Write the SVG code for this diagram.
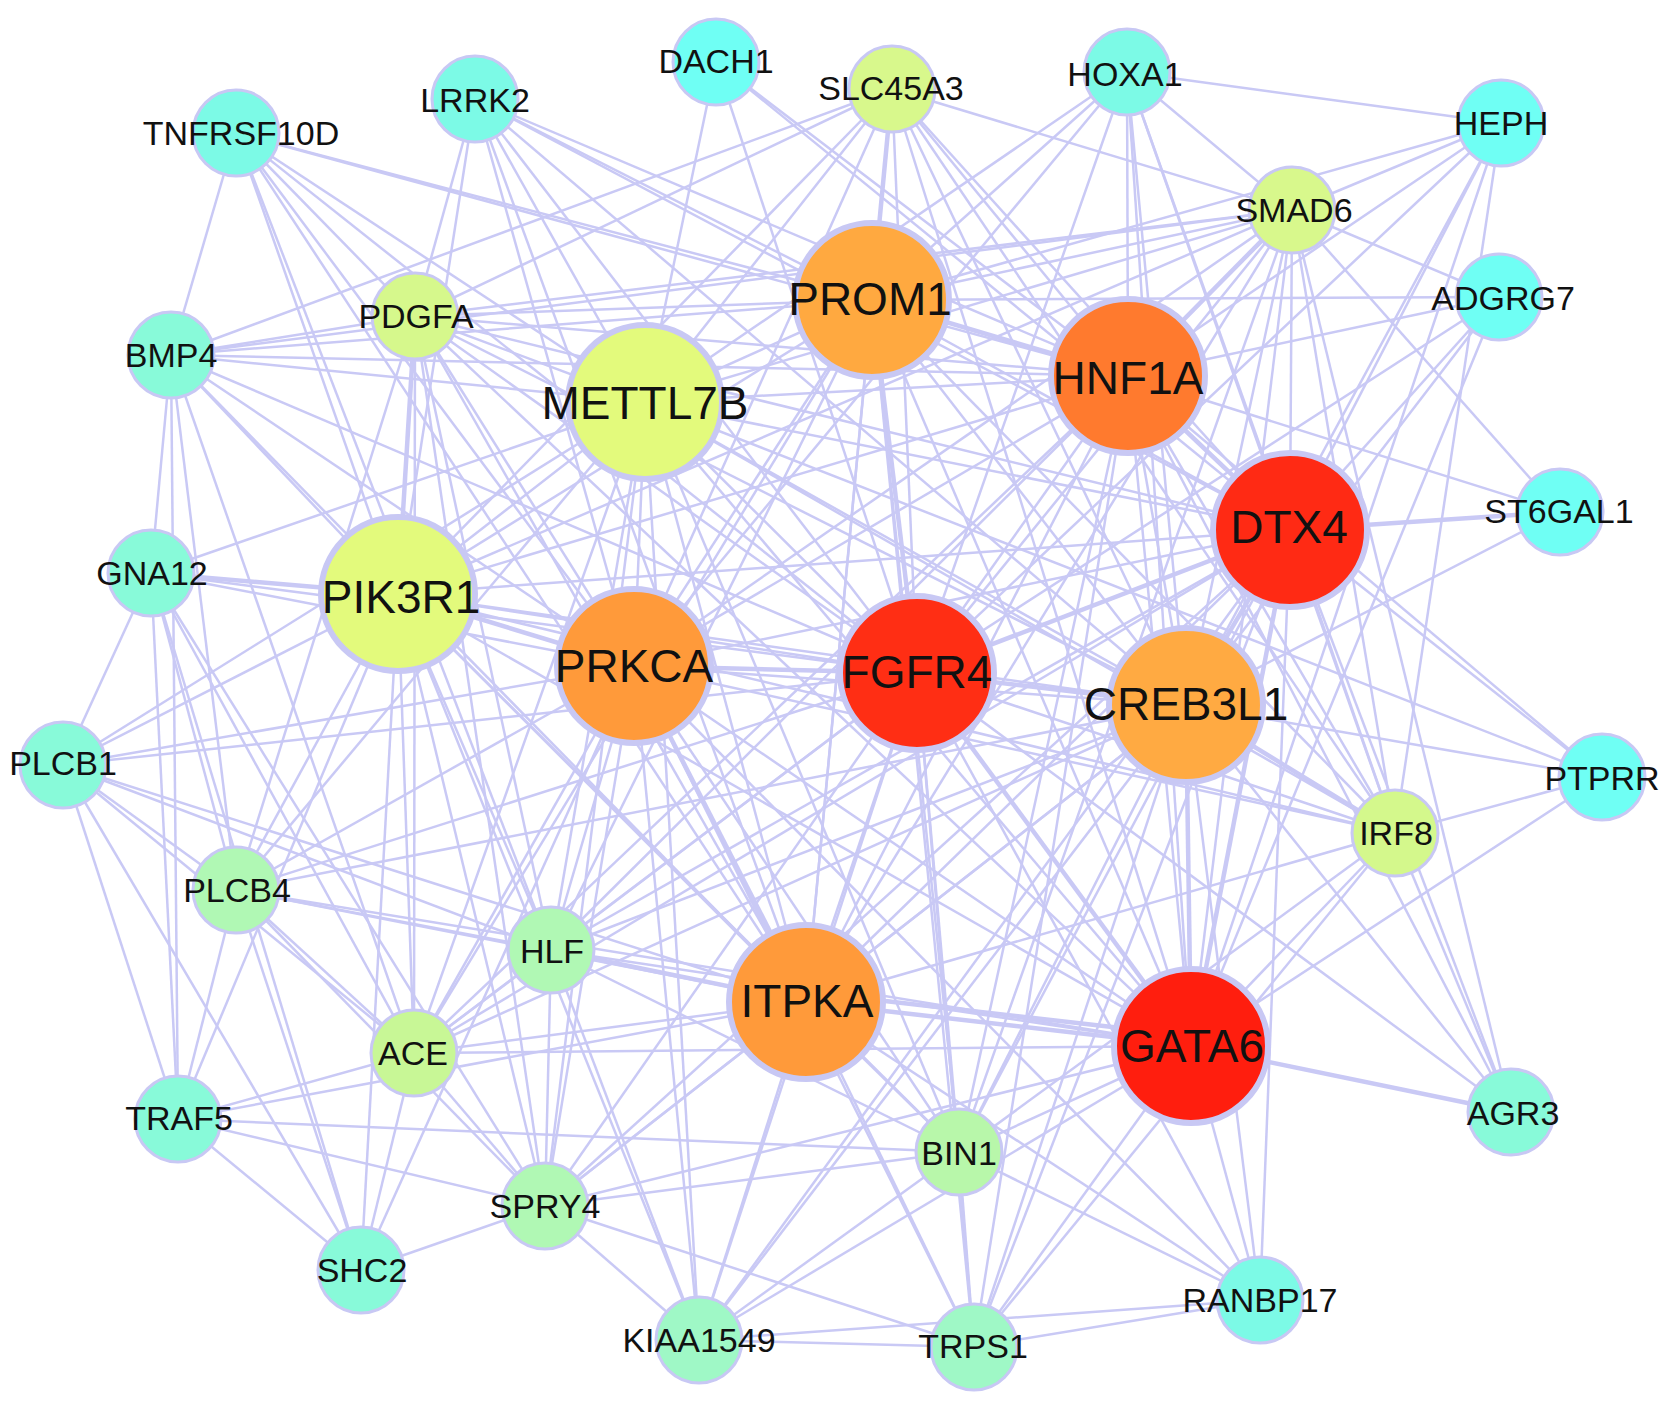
<svg xmlns="http://www.w3.org/2000/svg" width="1677" height="1411" viewBox="0 0 1677 1411">
<style>
.e line{stroke:#C9C9F5;stroke-width:2.5;fill:none}
.e line.t{stroke-width:4.5}
.s{stroke:#C8C8F4;stroke-width:3}
.b{stroke:#C8C8F4;stroke-width:6}
text{font-family:"Liberation Sans",Arial,sans-serif;fill:#111;text-anchor:middle}
.ls{font-size:34px}
.lb{font-size:46px}
</style>
<rect width="1677" height="1411" fill="#fff"/>
<g id="edges" class="e">
<line class="t" x1="872" y1="300" x2="1128" y2="376"/>
<line x1="872" y1="300" x2="645" y2="402"/>
<line x1="872" y1="300" x2="1290" y2="530"/>
<line x1="872" y1="300" x2="398" y2="594"/>
<line x1="872" y1="300" x2="634" y2="666"/>
<line class="t" x1="872" y1="300" x2="917" y2="673"/>
<line x1="872" y1="300" x2="1186" y2="705"/>
<line x1="872" y1="300" x2="806" y2="1002"/>
<line x1="872" y1="300" x2="1191" y2="1046"/>
<line x1="1128" y1="376" x2="645" y2="402"/>
<line class="t" x1="1128" y1="376" x2="1290" y2="530"/>
<line x1="1128" y1="376" x2="398" y2="594"/>
<line x1="1128" y1="376" x2="634" y2="666"/>
<line x1="1128" y1="376" x2="917" y2="673"/>
<line x1="1128" y1="376" x2="1186" y2="705"/>
<line x1="1128" y1="376" x2="806" y2="1002"/>
<line x1="1128" y1="376" x2="1191" y2="1046"/>
<line x1="645" y1="402" x2="1290" y2="530"/>
<line x1="645" y1="402" x2="398" y2="594"/>
<line x1="645" y1="402" x2="634" y2="666"/>
<line x1="645" y1="402" x2="917" y2="673"/>
<line x1="645" y1="402" x2="1186" y2="705"/>
<line x1="645" y1="402" x2="806" y2="1002"/>
<line x1="645" y1="402" x2="1191" y2="1046"/>
<line x1="1290" y1="530" x2="398" y2="594"/>
<line x1="1290" y1="530" x2="634" y2="666"/>
<line class="t" x1="1290" y1="530" x2="917" y2="673"/>
<line class="t" x1="1290" y1="530" x2="1186" y2="705"/>
<line x1="1290" y1="530" x2="806" y2="1002"/>
<line class="t" x1="1290" y1="530" x2="1191" y2="1046"/>
<line class="t" x1="398" y1="594" x2="634" y2="666"/>
<line x1="398" y1="594" x2="917" y2="673"/>
<line x1="398" y1="594" x2="1186" y2="705"/>
<line x1="398" y1="594" x2="806" y2="1002"/>
<line x1="398" y1="594" x2="1191" y2="1046"/>
<line class="t" x1="634" y1="666" x2="917" y2="673"/>
<line x1="634" y1="666" x2="1186" y2="705"/>
<line class="t" x1="634" y1="666" x2="806" y2="1002"/>
<line x1="634" y1="666" x2="1191" y2="1046"/>
<line class="t" x1="917" y1="673" x2="1186" y2="705"/>
<line x1="917" y1="673" x2="806" y2="1002"/>
<line class="t" x1="917" y1="673" x2="1191" y2="1046"/>
<line x1="1186" y1="705" x2="806" y2="1002"/>
<line class="t" x1="1186" y1="705" x2="1191" y2="1046"/>
<line class="t" x1="806" y1="1002" x2="1191" y2="1046"/>
<line class="t" x1="806" y1="992" x2="1191" y2="1036"/>
<line x1="716" y1="62" x2="1128" y2="376"/>
<line x1="716" y1="62" x2="917" y2="673"/>
<line x1="716" y1="62" x2="645" y2="402"/>
<line x1="716" y1="62" x2="1290" y2="530"/>
<line class="t" x1="892" y1="89" x2="872" y2="300"/>
<line x1="892" y1="89" x2="1128" y2="376"/>
<line x1="892" y1="89" x2="1290" y2="530"/>
<line x1="892" y1="89" x2="917" y2="673"/>
<line x1="892" y1="89" x2="1186" y2="705"/>
<line x1="892" y1="89" x2="1191" y2="1046"/>
<line x1="892" y1="89" x2="645" y2="402"/>
<line x1="892" y1="89" x2="634" y2="666"/>
<line x1="892" y1="89" x2="398" y2="594"/>
<line x1="892" y1="89" x2="415" y2="316"/>
<line x1="892" y1="89" x2="171" y2="355"/>
<line x1="892" y1="89" x2="1292" y2="210"/>
<line x1="892" y1="89" x2="806" y2="1002"/>
<line x1="892" y1="89" x2="1395" y2="833"/>
<line x1="1127" y1="72" x2="1292" y2="210"/>
<line x1="1127" y1="72" x2="1501" y2="123"/>
<line x1="1127" y1="72" x2="1128" y2="376"/>
<line x1="1127" y1="72" x2="1290" y2="530"/>
<line x1="1127" y1="72" x2="872" y2="300"/>
<line x1="1127" y1="72" x2="645" y2="402"/>
<line x1="1127" y1="72" x2="917" y2="673"/>
<line x1="1127" y1="72" x2="1186" y2="705"/>
<line x1="1127" y1="72" x2="634" y2="666"/>
<line x1="1127" y1="72" x2="1191" y2="1046"/>
<line x1="1127" y1="72" x2="1395" y2="833"/>
<line x1="1501" y1="123" x2="1292" y2="210"/>
<line x1="1501" y1="123" x2="1128" y2="376"/>
<line x1="1501" y1="123" x2="872" y2="300"/>
<line x1="1501" y1="123" x2="1290" y2="530"/>
<line x1="1501" y1="123" x2="1186" y2="705"/>
<line x1="1501" y1="123" x2="917" y2="673"/>
<line x1="1501" y1="123" x2="1191" y2="1046"/>
<line x1="1501" y1="123" x2="1395" y2="833"/>
<line x1="475" y1="99" x2="415" y2="316"/>
<line x1="475" y1="99" x2="645" y2="402"/>
<line x1="475" y1="99" x2="872" y2="300"/>
<line x1="475" y1="99" x2="634" y2="666"/>
<line x1="475" y1="99" x2="398" y2="594"/>
<line x1="475" y1="99" x2="917" y2="673"/>
<line x1="475" y1="99" x2="1128" y2="376"/>
<line x1="475" y1="99" x2="1290" y2="530"/>
<line x1="475" y1="99" x2="1186" y2="705"/>
<line x1="475" y1="99" x2="806" y2="1002"/>
<line x1="236" y1="133" x2="171" y2="355"/>
<line x1="236" y1="133" x2="398" y2="594"/>
<line x1="236" y1="133" x2="415" y2="316"/>
<line x1="236" y1="133" x2="645" y2="402"/>
<line x1="236" y1="133" x2="634" y2="666"/>
<line x1="236" y1="133" x2="872" y2="300"/>
<line x1="236" y1="133" x2="917" y2="673"/>
<line x1="236" y1="133" x2="1128" y2="376"/>
<line x1="236" y1="133" x2="551" y2="950"/>
<line x1="236" y1="133" x2="806" y2="1002"/>
<line x1="1292" y1="210" x2="1499" y2="297"/>
<line x1="1292" y1="210" x2="1560" y2="512"/>
<line x1="1292" y1="210" x2="872" y2="300"/>
<line class="t" x1="1292" y1="210" x2="1128" y2="376"/>
<line x1="1292" y1="210" x2="645" y2="402"/>
<line x1="1292" y1="210" x2="1290" y2="530"/>
<line x1="1292" y1="210" x2="917" y2="673"/>
<line x1="1292" y1="210" x2="1186" y2="705"/>
<line x1="1292" y1="210" x2="1191" y2="1046"/>
<line x1="1292" y1="210" x2="1395" y2="833"/>
<line x1="1292" y1="210" x2="634" y2="666"/>
<line x1="1292" y1="210" x2="398" y2="594"/>
<line x1="1292" y1="210" x2="806" y2="1002"/>
<line x1="1292" y1="210" x2="1511" y2="1112"/>
<line x1="1292" y1="210" x2="415" y2="316"/>
<line x1="1292" y1="210" x2="171" y2="355"/>
<line x1="1292" y1="210" x2="959" y2="1152"/>
<line x1="1499" y1="297" x2="1128" y2="376"/>
<line x1="1499" y1="297" x2="872" y2="300"/>
<line x1="1499" y1="297" x2="1290" y2="530"/>
<line x1="1499" y1="297" x2="1186" y2="705"/>
<line x1="1499" y1="297" x2="1191" y2="1046"/>
<line x1="1499" y1="297" x2="917" y2="673"/>
<line x1="415" y1="316" x2="171" y2="355"/>
<line x1="415" y1="316" x2="872" y2="300"/>
<line x1="415" y1="316" x2="645" y2="402"/>
<line x1="415" y1="316" x2="1128" y2="376"/>
<line x1="415" y1="316" x2="1290" y2="530"/>
<line class="t" x1="415" y1="316" x2="398" y2="594"/>
<line x1="415" y1="316" x2="634" y2="666"/>
<line x1="415" y1="316" x2="917" y2="673"/>
<line x1="415" y1="316" x2="1186" y2="705"/>
<line x1="415" y1="316" x2="806" y2="1002"/>
<line x1="415" y1="316" x2="1191" y2="1046"/>
<line x1="415" y1="316" x2="236" y2="890"/>
<line x1="415" y1="316" x2="414" y2="1053"/>
<line x1="415" y1="316" x2="551" y2="950"/>
<line x1="415" y1="316" x2="545" y2="1206"/>
<line x1="171" y1="355" x2="151" y2="573"/>
<line x1="171" y1="355" x2="398" y2="594"/>
<line x1="171" y1="355" x2="645" y2="402"/>
<line x1="171" y1="355" x2="872" y2="300"/>
<line x1="171" y1="355" x2="634" y2="666"/>
<line x1="171" y1="355" x2="917" y2="673"/>
<line x1="171" y1="355" x2="1128" y2="376"/>
<line x1="171" y1="355" x2="236" y2="890"/>
<line x1="171" y1="355" x2="178" y2="1119"/>
<line x1="171" y1="355" x2="414" y2="1053"/>
<line x1="171" y1="355" x2="806" y2="1002"/>
<line class="t" x1="1560" y1="512" x2="1290" y2="530"/>
<line x1="1560" y1="512" x2="1186" y2="705"/>
<line x1="1560" y1="512" x2="1128" y2="376"/>
<line class="t" x1="151" y1="573" x2="398" y2="594"/>
<line x1="151" y1="573" x2="63" y2="765"/>
<line x1="151" y1="573" x2="236" y2="890"/>
<line x1="151" y1="573" x2="178" y2="1119"/>
<line x1="151" y1="573" x2="361" y2="1270"/>
<line x1="151" y1="573" x2="414" y2="1053"/>
<line x1="151" y1="573" x2="634" y2="666"/>
<line x1="151" y1="573" x2="917" y2="673"/>
<line x1="151" y1="573" x2="645" y2="402"/>
<line x1="151" y1="573" x2="545" y2="1206"/>
<line x1="63" y1="765" x2="236" y2="890"/>
<line x1="63" y1="765" x2="398" y2="594"/>
<line x1="63" y1="765" x2="634" y2="666"/>
<line x1="63" y1="765" x2="178" y2="1119"/>
<line x1="63" y1="765" x2="361" y2="1270"/>
<line x1="63" y1="765" x2="917" y2="673"/>
<line x1="63" y1="765" x2="806" y2="1002"/>
<line x1="63" y1="765" x2="551" y2="950"/>
<line x1="63" y1="765" x2="645" y2="402"/>
<line x1="63" y1="765" x2="414" y2="1053"/>
<line x1="1602" y1="777" x2="1395" y2="833"/>
<line x1="1602" y1="777" x2="1290" y2="530"/>
<line x1="1602" y1="777" x2="1186" y2="705"/>
<line x1="1602" y1="777" x2="1191" y2="1046"/>
<line x1="1602" y1="777" x2="645" y2="402"/>
<line x1="1602" y1="777" x2="1128" y2="376"/>
<line x1="1395" y1="833" x2="1290" y2="530"/>
<line class="t" x1="1395" y1="833" x2="1186" y2="705"/>
<line x1="1395" y1="833" x2="917" y2="673"/>
<line x1="1395" y1="833" x2="1191" y2="1046"/>
<line x1="1395" y1="833" x2="1128" y2="376"/>
<line x1="1395" y1="833" x2="872" y2="300"/>
<line x1="1395" y1="833" x2="634" y2="666"/>
<line x1="1395" y1="833" x2="806" y2="1002"/>
<line x1="1395" y1="833" x2="1511" y2="1112"/>
<line x1="1395" y1="833" x2="959" y2="1152"/>
<line x1="1395" y1="833" x2="974" y2="1347"/>
<line x1="1395" y1="833" x2="645" y2="402"/>
<line x1="1395" y1="833" x2="398" y2="594"/>
<line x1="236" y1="890" x2="398" y2="594"/>
<line x1="236" y1="890" x2="634" y2="666"/>
<line x1="236" y1="890" x2="917" y2="673"/>
<line x1="236" y1="890" x2="645" y2="402"/>
<line x1="236" y1="890" x2="551" y2="950"/>
<line x1="236" y1="890" x2="806" y2="1002"/>
<line x1="236" y1="890" x2="178" y2="1119"/>
<line x1="236" y1="890" x2="361" y2="1270"/>
<line x1="236" y1="890" x2="414" y2="1053"/>
<line x1="236" y1="890" x2="545" y2="1206"/>
<line x1="236" y1="890" x2="1186" y2="705"/>
<line x1="236" y1="890" x2="1191" y2="1046"/>
<line x1="551" y1="950" x2="398" y2="594"/>
<line x1="551" y1="950" x2="634" y2="666"/>
<line x1="551" y1="950" x2="917" y2="673"/>
<line x1="551" y1="950" x2="645" y2="402"/>
<line class="t" x1="551" y1="950" x2="806" y2="1002"/>
<line x1="551" y1="950" x2="1191" y2="1046"/>
<line x1="551" y1="950" x2="1186" y2="705"/>
<line x1="551" y1="950" x2="414" y2="1053"/>
<line x1="551" y1="950" x2="545" y2="1206"/>
<line x1="551" y1="950" x2="699" y2="1340"/>
<line x1="551" y1="950" x2="959" y2="1152"/>
<line x1="551" y1="950" x2="1290" y2="530"/>
<line x1="551" y1="950" x2="1128" y2="376"/>
<line x1="551" y1="950" x2="872" y2="300"/>
<line x1="414" y1="1053" x2="398" y2="594"/>
<line x1="414" y1="1053" x2="634" y2="666"/>
<line x1="414" y1="1053" x2="917" y2="673"/>
<line x1="414" y1="1053" x2="806" y2="1002"/>
<line x1="414" y1="1053" x2="1191" y2="1046"/>
<line x1="414" y1="1053" x2="545" y2="1206"/>
<line x1="414" y1="1053" x2="361" y2="1270"/>
<line x1="414" y1="1053" x2="178" y2="1119"/>
<line x1="414" y1="1053" x2="1128" y2="376"/>
<line x1="414" y1="1053" x2="1290" y2="530"/>
<line x1="414" y1="1053" x2="1186" y2="705"/>
<line x1="414" y1="1053" x2="645" y2="402"/>
<line x1="414" y1="1053" x2="872" y2="300"/>
<line x1="178" y1="1119" x2="361" y2="1270"/>
<line x1="178" y1="1119" x2="545" y2="1206"/>
<line x1="178" y1="1119" x2="806" y2="1002"/>
<line x1="178" y1="1119" x2="959" y2="1152"/>
<line x1="178" y1="1119" x2="398" y2="594"/>
<line class="t" x1="1511" y1="1112" x2="1191" y2="1046"/>
<line x1="1511" y1="1112" x2="1186" y2="705"/>
<line x1="1511" y1="1112" x2="1128" y2="376"/>
<line x1="1511" y1="1112" x2="1290" y2="530"/>
<line x1="1511" y1="1112" x2="917" y2="673"/>
<line x1="959" y1="1152" x2="806" y2="1002"/>
<line x1="959" y1="1152" x2="917" y2="673"/>
<line x1="959" y1="1152" x2="1191" y2="1046"/>
<line x1="959" y1="1152" x2="1186" y2="705"/>
<line x1="959" y1="1152" x2="1290" y2="530"/>
<line x1="959" y1="1152" x2="1128" y2="376"/>
<line x1="959" y1="1152" x2="872" y2="300"/>
<line x1="959" y1="1152" x2="634" y2="666"/>
<line x1="959" y1="1152" x2="398" y2="594"/>
<line x1="959" y1="1152" x2="645" y2="402"/>
<line x1="959" y1="1152" x2="974" y2="1347"/>
<line x1="959" y1="1152" x2="699" y2="1340"/>
<line x1="959" y1="1152" x2="545" y2="1206"/>
<line x1="959" y1="1152" x2="1260" y2="1300"/>
<line x1="545" y1="1206" x2="361" y2="1270"/>
<line x1="545" y1="1206" x2="398" y2="594"/>
<line x1="545" y1="1206" x2="634" y2="666"/>
<line x1="545" y1="1206" x2="917" y2="673"/>
<line x1="545" y1="1206" x2="806" y2="1002"/>
<line x1="545" y1="1206" x2="1191" y2="1046"/>
<line x1="545" y1="1206" x2="699" y2="1340"/>
<line x1="545" y1="1206" x2="645" y2="402"/>
<line x1="545" y1="1206" x2="1186" y2="705"/>
<line x1="545" y1="1206" x2="1290" y2="530"/>
<line x1="361" y1="1270" x2="398" y2="594"/>
<line x1="361" y1="1270" x2="634" y2="666"/>
<line x1="1260" y1="1300" x2="1191" y2="1046"/>
<line x1="1260" y1="1300" x2="1290" y2="530"/>
<line x1="1260" y1="1300" x2="974" y2="1347"/>
<line x1="1260" y1="1300" x2="699" y2="1340"/>
<line x1="1260" y1="1300" x2="806" y2="1002"/>
<line x1="1260" y1="1300" x2="634" y2="666"/>
<line x1="1260" y1="1300" x2="917" y2="673"/>
<line x1="1260" y1="1300" x2="1186" y2="705"/>
<line x1="699" y1="1340" x2="974" y2="1347"/>
<line x1="699" y1="1340" x2="806" y2="1002"/>
<line x1="699" y1="1340" x2="634" y2="666"/>
<line x1="699" y1="1340" x2="398" y2="594"/>
<line x1="699" y1="1340" x2="645" y2="402"/>
<line x1="699" y1="1340" x2="917" y2="673"/>
<line x1="699" y1="1340" x2="1191" y2="1046"/>
<line x1="699" y1="1340" x2="1290" y2="530"/>
<line x1="699" y1="1340" x2="1186" y2="705"/>
<line x1="974" y1="1347" x2="806" y2="1002"/>
<line x1="974" y1="1347" x2="1191" y2="1046"/>
<line x1="974" y1="1347" x2="917" y2="673"/>
<line x1="974" y1="1347" x2="634" y2="666"/>
<line x1="974" y1="1347" x2="1186" y2="705"/>
<line x1="974" y1="1347" x2="1290" y2="530"/>
<line x1="974" y1="1347" x2="1128" y2="376"/>
<line x1="974" y1="1347" x2="872" y2="300"/>
<line x1="974" y1="1347" x2="545" y2="1206"/>
</g>
<g id="DACH1"><circle class="s" cx="716" cy="62" r="43" fill="#6FFFF4"/><text class="ls" x="716" y="73">DACH1</text></g>
<g id="SLC45A3"><circle class="s" cx="892" cy="89" r="43" fill="#D8F88C"/><text class="ls" x="891" y="100">SLC45A3</text></g>
<g id="HOXA1"><circle class="s" cx="1127" cy="72" r="43" fill="#7CFAE6"/><text class="ls" x="1125" y="86">HOXA1</text></g>
<g id="HEPH"><circle class="s" cx="1501" cy="123" r="43" fill="#6FFFF4"/><text class="ls" x="1501" y="135">HEPH</text></g>
<g id="LRRK2"><circle class="s" cx="475" cy="99" r="43" fill="#7CFAE6"/><text class="ls" x="475" y="112">LRRK2</text></g>
<g id="TNFRSF10D"><circle class="s" cx="236" cy="133" r="43" fill="#7CFAE6"/><text class="ls" x="241" y="145">TNFRSF10D</text></g>
<g id="SMAD6"><circle class="s" cx="1292" cy="210" r="43" fill="#D8F88C"/><text class="ls" x="1294" y="222">SMAD6</text></g>
<g id="ADGRG7"><circle class="s" cx="1499" cy="297" r="43" fill="#6FFFF4"/><text class="ls" x="1503" y="310">ADGRG7</text></g>
<g id="PDGFA"><circle class="s" cx="415" cy="316" r="43" fill="#D6F88C"/><text class="ls" x="416" y="328">PDGFA</text></g>
<g id="BMP4"><circle class="s" cx="171" cy="355" r="43" fill="#88FAD9"/><text class="ls" x="171" y="367">BMP4</text></g>
<g id="PROM1"><circle class="b" cx="872" cy="300" r="77" fill="#FFA940"/><text class="lb" x="870" y="315">PROM1</text></g>
<g id="HNF1A"><circle class="b" cx="1128" cy="376" r="77" fill="#FF7A2E"/><text class="lb" x="1128" y="394">HNF1A</text></g>
<g id="METTL7B"><circle class="b" cx="645" cy="402" r="77" fill="#E3FA7C"/><text class="lb" x="645" y="419">METTL7B</text></g>
<g id="DTX4"><circle class="b" cx="1290" cy="530" r="77" fill="#FF2A14"/><text class="lb" x="1289" y="543">DTX4</text></g>
<g id="ST6GAL1"><circle class="s" cx="1560" cy="512" r="43" fill="#6FFFF4"/><text class="ls" x="1559" y="523">ST6GAL1</text></g>
<g id="GNA12"><circle class="s" cx="151" cy="573" r="43" fill="#88FAD9"/><text class="ls" x="152" y="585">GNA12</text></g>
<g id="PIK3R1"><circle class="b" cx="398" cy="594" r="77" fill="#E3FA7C"/><text class="lb" x="401" y="613">PIK3R1</text></g>
<g id="PRKCA"><circle class="b" cx="634" cy="666" r="77" fill="#FF9A3A"/><text class="lb" x="634" y="682">PRKCA</text></g>
<g id="FGFR4"><circle class="b" cx="917" cy="673" r="77" fill="#FF2E14"/><text class="lb" x="917" y="688">FGFR4</text></g>
<g id="CREB3L1"><circle class="b" cx="1186" cy="705" r="77" fill="#FFAA42"/><text class="lb" x="1186" y="720">CREB3L1</text></g>
<g id="PLCB1"><circle class="s" cx="63" cy="765" r="43" fill="#88FAD9"/><text class="ls" x="63" y="775">PLCB1</text></g>
<g id="PTPRR"><circle class="s" cx="1602" cy="777" r="43" fill="#6FFFF4"/><text class="ls" x="1602" y="790">PTPRR</text></g>
<g id="IRF8"><circle class="s" cx="1395" cy="833" r="43" fill="#D4F88C"/><text class="ls" x="1396" y="845">IRF8</text></g>
<g id="PLCB4"><circle class="s" cx="236" cy="890" r="43" fill="#B0F8B4"/><text class="ls" x="237" y="902">PLCB4</text></g>
<g id="HLF"><circle class="s" cx="551" cy="950" r="43" fill="#B0F8B4"/><text class="ls" x="552" y="963">HLF</text></g>
<g id="ITPKA"><circle class="b" cx="806" cy="1002" r="77" fill="#FF9A3A"/><text class="lb" x="807" y="1017">ITPKA</text></g>
<g id="GATA6"><circle class="b" cx="1191" cy="1046" r="77" fill="#FF1E0E"/><text class="lb" x="1192" y="1062">GATA6</text></g>
<g id="ACE"><circle class="s" cx="414" cy="1053" r="43" fill="#C8F796"/><text class="ls" x="413" y="1065">ACE</text></g>
<g id="TRAF5"><circle class="s" cx="178" cy="1119" r="43" fill="#88FAD9"/><text class="ls" x="179" y="1130">TRAF5</text></g>
<g id="AGR3"><circle class="s" cx="1511" cy="1112" r="43" fill="#88FAD9"/><text class="ls" x="1513" y="1125">AGR3</text></g>
<g id="BIN1"><circle class="s" cx="959" cy="1152" r="43" fill="#B8F7AA"/><text class="ls" x="959" y="1165">BIN1</text></g>
<g id="SPRY4"><circle class="s" cx="545" cy="1206" r="43" fill="#B0F8B4"/><text class="ls" x="545" y="1218">SPRY4</text></g>
<g id="SHC2"><circle class="s" cx="361" cy="1270" r="43" fill="#88FAD9"/><text class="ls" x="362" y="1282">SHC2</text></g>
<g id="RANBP17"><circle class="s" cx="1260" cy="1300" r="43" fill="#7CFAE6"/><text class="ls" x="1260" y="1312">RANBP17</text></g>
<g id="KIAA1549"><circle class="s" cx="699" cy="1340" r="43" fill="#9FF8C6"/><text class="ls" x="699" y="1352">KIAA1549</text></g>
<g id="TRPS1"><circle class="s" cx="974" cy="1347" r="43" fill="#9FF8C6"/><text class="ls" x="973" y="1358">TRPS1</text></g>
</svg>
